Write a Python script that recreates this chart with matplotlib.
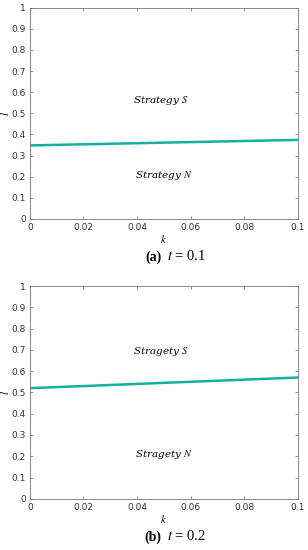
import matplotlib
matplotlib.use('Agg')
import matplotlib.pyplot as plt

plt.rcParams['mathtext.fontset'] = 'stix'

k = [0.0, 0.1]
l_a = [0.348, 0.374]
l_b = [0.52, 0.57]
xticks = [0, 0.02, 0.04, 0.06, 0.08, 0.1]
xticklabels = ['0', '0.02', '0.04', '0.06', '0.08', '0.1']
yticks = [0, 0.1, 0.2, 0.3, 0.4, 0.5, 0.6, 0.7, 0.8, 0.9, 1]
yticklabels = ['0', '0.1', '0.2', '0.3', '0.4', '0.5', '0.6', '0.7', '0.8', '0.9', '1']

panels = [
    (l_a, 'Strategy', 0.56, 0.205, '(a)', '0.1', [0.097, 0.602, 0.870, 0.384]),
    (l_b, 'Stragety', 0.69, 0.21, '(b)', '0.2', [0.097, 0.093, 0.870, 0.387]),
]

fig = plt.figure(figsize=(3.08, 5.5), dpi=100)
for l, word, ys, yn, tag, tval, pos in panels:
    ax = fig.add_axes(pos)
    ax.plot(k, l, color='#14b09e', lw=1.8)
    ax.set_xlim(0, 0.1)
    ax.set_ylim(0, 1)
    ax.set_xticks(xticks)
    ax.set_xticklabels(xticklabels)
    ax.set_yticks(yticks)
    ax.set_yticklabels(yticklabels)
    ax.tick_params(direction='in', top=True, right=True, length=2.5, width=0.5,
                   labelsize=6.5, labelcolor='#333333', color='#666666', pad=3)
    for s in ax.spines.values():
        s.set_color('#777777')
        s.set_linewidth(0.6)
    ax.text(0.049, ys, word + ' $S$', ha='center', va='center', fontsize=7.5,
            family='DejaVu Serif', style='italic')
    ax.text(0.05, yn, word + ' $N$', ha='center', va='center', fontsize=7.5,
            family='DejaVu Serif', style='italic')
    ax.set_xlabel('$k$', fontsize=8, labelpad=1)
    ax.set_ylabel('$l$', fontsize=8, va='center')
    ax.yaxis.set_label_coords(-0.093, 0.5)
    ax.text(0.49, -0.18, tag, transform=ax.transAxes, ha='right', va='center',
            fontsize=10, fontweight='bold', family='Liberation Serif')
    ax.text(0.51, -0.175, '$t$ = ' + tval, transform=ax.transAxes, ha='left', va='center',
            fontsize=10.5, family='Liberation Serif')

fig.savefig('out.png', dpi=100)
